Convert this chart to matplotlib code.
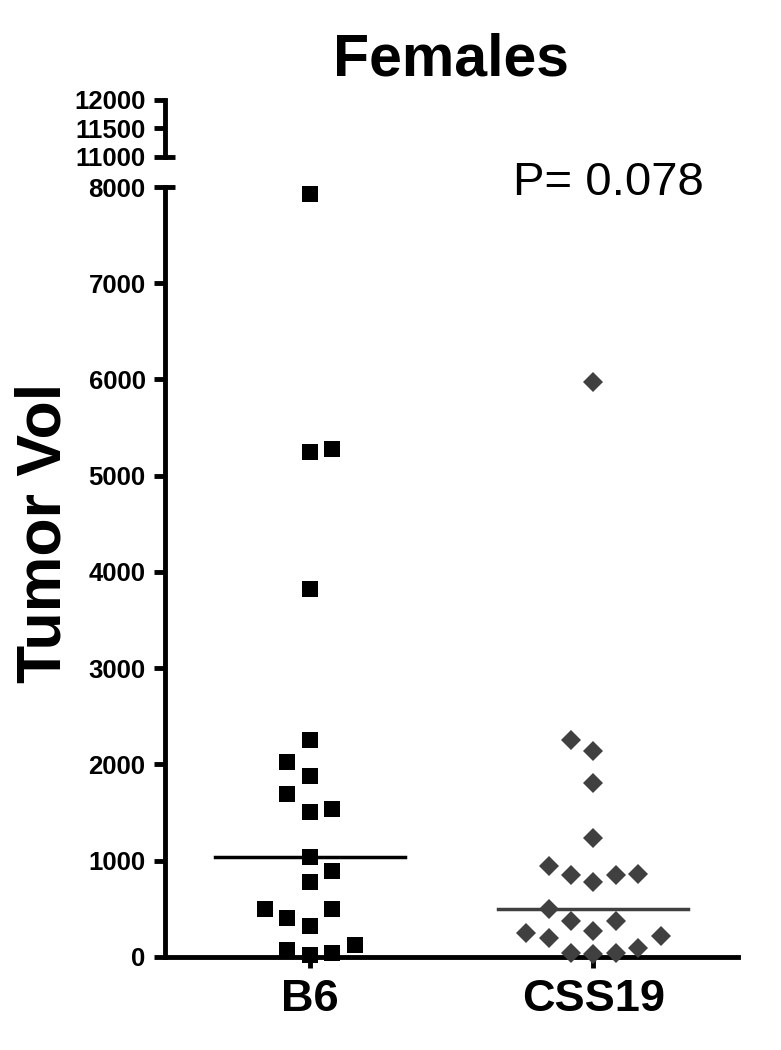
import numpy as np
import matplotlib.pyplot as plt

plt.rcParams['font.family'] = ['Liberation Sans', 'DejaVu Sans']

# tumor volumes, with the column each point sits in (jitter slot)
groups = ['B6', 'CSS19']
b6_vol = [7930, 5250, 5280, 3820, 2250, 2030, 1880, 1690, 1510, 1540, 1035,
          895, 775, 500, 400, 500, 320, 75, 25, 45, 120]
b6_col = [0, 0, 1, 0, 0, -1, 0, -1, 0, 1, 0,
          1, 0, -2, -1, 1, 0, -1, 0, 1, 2]
css19_vol = [5970, 2250, 2140, 1810, 1235, 940, 855, 780, 855, 865, 500,
             370, 275, 370, 250, 195, 215, 95, 40, 30, 40]
css19_col = [0, -1, 0, 0, 0, -2, -1, 0, 1, 2, -2,
             -1, 0, 1, -3, -2, 3, 2, -1, 0, 1]
low_ticks = [0, 1000, 2000, 3000, 4000, 5000, 6000, 7000, 8000]
high_ticks = [11000, 11500, 12000]
p_text = 'P= 0.078'

step = 0.079   # horizontal jitter spacing
half = 0.335   # half width of median line
lw = 3.5

fig = plt.figure(figsize=(7.81, 10.5), dpi=100)
ax = fig.add_axes([0.2113, 0.0886, 0.7337, 0.7333])
ax2 = fig.add_axes([0.2113, 0.8505, 0.7337, 0.0543])

# scatter of each group
x1 = 0 + np.array(b6_col) * step
x2 = 1 + np.array(css19_col) * step
ax.plot(x1, b6_vol, 's', color='black', ms=11, mew=0, clip_on=False, zorder=3)
ax.plot(x2, css19_vol, 'D', color='#404040', ms=10.3, mew=0, clip_on=False, zorder=3)

# median lines
m1 = np.median(b6_vol)
m2 = np.median(css19_vol)
ax.plot([0 - half, 0 + half], [m1, m1], color='black', lw=2.5, zorder=4)
ax.plot([1 - half, 1 + half], [m2, m2], color='#404040', lw=2.5, zorder=4)

ax.set_xlim(-0.51, 1.51)
ax.set_ylim(0, 8000)
ax.set_yticks(low_ticks)
ax.set_xticks([0, 1])
ax.set_xticklabels(groups, fontsize=32.5, fontweight='bold')
for t in ax.get_yticklabels():
    t.set_fontsize(18.5)
    t.set_fontweight('bold')
ax.tick_params(axis='y', length=8, width=lw, pad=6)
ax.tick_params(axis='x', length=8, width=lw, pad=8)
for s in ['top', 'right']:
    ax.spines[s].set_visible(False)
for s in ['left', 'bottom']:
    ax.spines[s].set_linewidth(lw)

# upper part of the broken axis
ax2.set_xlim(-0.51, 1.51)
ax2.set_ylim(11000, 12000)
ax2.set_yticks(high_ticks)
ax2.set_xticks([])
for t in ax2.get_yticklabels():
    t.set_fontsize(18.5)
    t.set_fontweight('bold')
ax2.tick_params(axis='y', length=8, width=lw, pad=6)
for s in ['top', 'right', 'bottom']:
    ax2.spines[s].set_visible(False)
ax2.spines['left'].set_linewidth(lw)
ax2.patch.set_visible(False)

# break marks
ax.plot([0, 0.018], [1, 1], transform=ax.transAxes, color='black', lw=lw,
        clip_on=False, solid_capstyle='butt')
ax2.plot([0, 0.018], [0, 0], transform=ax2.transAxes, color='black', lw=lw,
         clip_on=False, solid_capstyle='butt')

fig.text(0.5775, 1 - 75 / 1050, 'Females', ha='center', va='baseline',
         fontsize=42.5, fontweight='bold')
fig.text(513 / 781, 1 - 195 / 1050, p_text, ha='left', va='baseline', fontsize=34)
fig.text(44 / 781, 1 - 533 / 1050, 'Tumor Vol', rotation=90, ha='center',
         va='center', fontsize=45, fontweight='bold')

fig.savefig('out.png', dpi=100)
